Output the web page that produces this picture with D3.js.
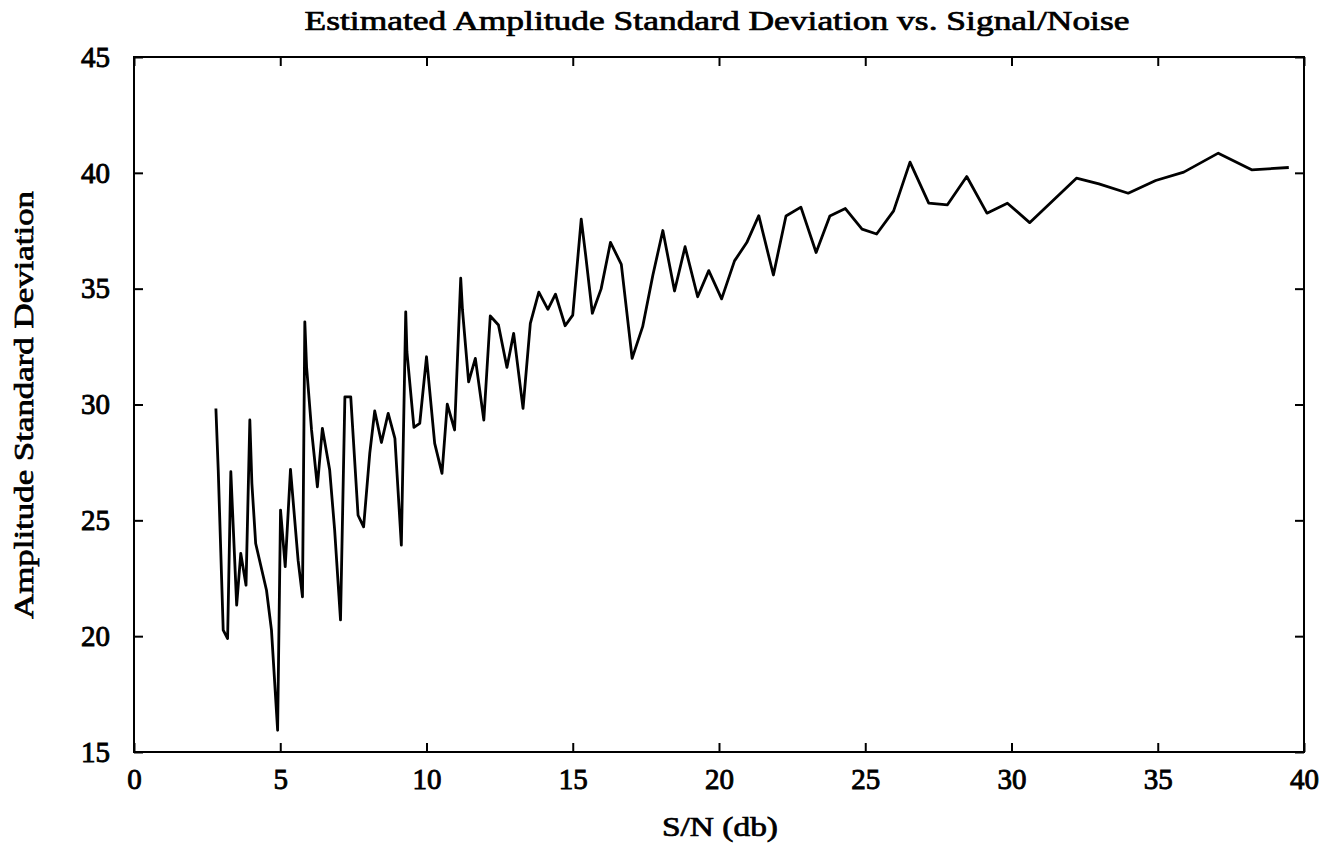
<!DOCTYPE html>
<html lang="en">
<head>
    <meta charset="UTF-8">
    <title>Estimated Amplitude Standard Deviation vs. Signal/Noise</title>
    <script src="https://d3js.org/d3.v7.min.js"></script>
    <style>
        body {
            margin: 0;
            background: #fff;
        }
        svg text {
            font-family: "Liberation Serif", "Times New Roman", serif;
            fill: #000;
            stroke: #000;
            stroke-width: 0.7px;
        }
        .axis path {
            display: none;
        }
        .axis line {
            stroke: #000;
            stroke-width: 2;
        }
        .axis text {
            font-size: 29px;
            stroke-width: 0.9px;
        }
    </style>
</head>
<body>
    <svg id="chart" width="1338" height="862"></svg>

    <script>
        // S/N (db) values
        const snr = [
            2.80, 2.88, 3.05, 3.20, 3.31, 3.51, 3.65, 3.83, 3.96, 4.03,
            4.16, 4.53, 4.70, 4.91, 5.01, 5.17, 5.35, 5.61, 5.76, 5.84,
            5.90, 6.07, 6.27, 6.44, 6.69, 6.86, 7.06, 7.21, 7.41, 7.66,
            7.85, 8.06, 8.23, 8.46, 8.69, 8.92, 9.14, 9.29, 9.33, 9.57,
            9.77, 10.00, 10.28, 10.53, 10.71, 10.96, 11.17, 11.23, 11.44, 11.67,
            11.96, 12.18, 12.46, 12.75, 12.98, 13.30, 13.55, 13.84, 14.15, 14.41,
            14.74, 15.00, 15.29, 15.44, 15.67, 15.97, 16.29, 16.66, 17.03, 17.39,
            17.74, 18.08, 18.48, 18.84, 19.27, 19.65, 20.09, 20.53, 20.95, 21.36,
            21.86, 22.29, 22.80, 23.32, 23.79, 24.32, 24.89, 25.39, 25.97, 26.53,
            27.17, 27.81, 28.47, 29.16, 29.86, 30.62, 32.22, 32.99, 33.99, 34.93,
            35.89, 37.07, 38.21, 39.48
        ];

        // estimated amplitude standard deviation at each S/N
        const stdDev = [
            29.83, 27.17, 20.26, 19.90, 27.10, 21.34, 23.57, 22.20, 29.33, 26.60,
            24.00, 21.98, 20.26, 15.94, 25.44, 23.00, 27.20, 23.28, 21.70, 33.57,
            31.63, 28.90, 26.45, 28.97, 27.17, 24.58, 20.70, 30.33, 30.33, 25.22,
            24.72, 27.89, 29.72, 28.36, 29.62, 28.54, 23.93, 34.00, 32.28, 29.01,
            29.19, 32.06, 28.32, 27.03, 30.02, 28.90, 35.45, 34.08, 30.98, 31.99,
            29.33, 33.82, 33.43, 31.60, 33.07, 29.83, 33.50, 34.85, 34.11, 34.76,
            33.40, 33.86, 38.00, 36.46, 33.94, 34.99, 37.00, 36.05, 31.99, 33.36,
            35.59, 37.51, 34.90, 36.81, 34.65, 35.78, 34.56, 36.20, 36.99, 38.15,
            35.59, 38.14, 38.52, 36.56, 38.14, 38.46, 37.57, 37.36, 38.36, 40.46,
            38.69, 38.62, 39.84, 38.26, 38.69, 37.85, 39.77, 39.52, 39.12, 39.67,
            40.03, 40.85, 40.13, 40.23
        ];

        const xTicks = [0, 5, 10, 15, 20, 25, 30, 35, 40];
        const yTicks = [15, 20, 25, 30, 35, 40, 45];

        const titleText = "Estimated Amplitude Standard Deviation vs. Signal/Noise";
        const xLabelText = "S/N (db)";
        const yLabelText = "Amplitude Standard Deviation";

        const svg = d3.select("#chart");
        const margin = { top: 57, right: 34, bottom: 110, left: 134 };
        const width = 1338 - margin.left - margin.right;
        const height = 862 - margin.top - margin.bottom;

        const x = d3.scaleLinear().domain([0, 40]).range([0, width]);
        const y = d3.scaleLinear().domain([15, 45]).range([height, 0]);

        const g = svg.append("g")
            .attr("transform", `translate(${margin.left},${margin.top})`);

        // ticks point inward on all four sides
        g.append("g")
            .attr("class", "axis")
            .attr("transform", `translate(0,${height})`)
            .call(d3.axisBottom(x).tickValues(xTicks).tickSizeInner(-9).tickSizeOuter(0).tickPadding(16))
            .selectAll("text")
            .attr("dy", "0.71em");

        g.append("g")
            .attr("class", "axis")
            .call(d3.axisTop(x).tickValues(xTicks).tickSizeInner(-9).tickSizeOuter(0).tickFormat(""));

        g.append("g")
            .attr("class", "axis")
            .call(d3.axisLeft(y).tickValues(yTicks).tickSizeInner(-9).tickSizeOuter(0).tickPadding(24));

        g.append("g")
            .attr("class", "axis")
            .attr("transform", `translate(${width},0)`)
            .call(d3.axisRight(y).tickValues(yTicks).tickSizeInner(-9).tickSizeOuter(0).tickFormat(""));

        // frame
        g.append("rect")
            .attr("width", width)
            .attr("height", height)
            .attr("fill", "none")
            .attr("stroke", "#000")
            .attr("stroke-width", 2);

        const line = d3.line()
            .x((d, i) => x(snr[i]))
            .y(d => y(d));

        g.append("path")
            .datum(stdDev)
            .attr("d", line)
            .attr("fill", "none")
            .attr("stroke", "#000")
            .attr("stroke-width", 2.8)
            .attr("stroke-linejoin", "round");

        // labels (scanned lettering runs wider than Times, so stretch to fit)
        svg.append("text")
            .attr("x", 717)
            .attr("y", 30)
            .attr("text-anchor", "middle")
            .attr("font-size", 27)
            .attr("textLength", 825)
            .attr("lengthAdjust", "spacingAndGlyphs")
            .text(titleText);

        svg.append("text")
            .attr("x", 720)
            .attr("y", 836)
            .attr("text-anchor", "middle")
            .attr("font-size", 27)
            .attr("textLength", 116)
            .attr("lengthAdjust", "spacingAndGlyphs")
            .text(xLabelText);

        svg.append("text")
            .attr("transform", "translate(33,405) rotate(-90)")
            .attr("text-anchor", "middle")
            .attr("font-size", 27)
            .attr("textLength", 428)
            .attr("lengthAdjust", "spacingAndGlyphs")
            .text(yLabelText);
    </script>
</body>
</html>
